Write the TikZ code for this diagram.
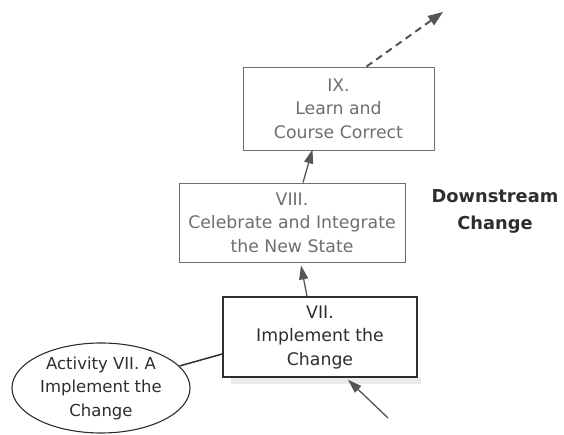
\documentclass[tikz,border=0pt]{standalone}
\usepackage{fontspec}
\setmainfont{DejaVu Sans}
\usetikzlibrary{arrows.meta,calc,shapes.geometric}
\definecolor{softgray}{HTML}{6E6E6E}
\definecolor{darkgray2}{HTML}{2E2E2E}
\definecolor{arrowgray}{HTML}{555555}
\begin{document}
\begin{tikzpicture}[x=1pt,y=1pt,
  stagebox/.style={draw=softgray, line width=0.9pt, text=softgray, align=center,
    inner sep=0pt, font=\fontsize{17.3}{23.5}\selectfont},
  activebox/.style={draw=darkgray2, line width=1.5pt, text=darkgray2, align=center,
    inner sep=0pt, fill=white, font=\fontsize{17.3}{23.5}\selectfont},
  activity/.style={ellipse, draw=darkgray2, line width=1.1pt, text=darkgray2, align=center,
    inner sep=0pt, font=\fontsize{16.5}{23.5}\selectfont},
  flow/.style={arrowgray, line width=1.3pt, -{Triangle[length=14pt,width=9pt]}},
  nextflow/.style={arrowgray, line width=2pt, dash pattern=on 7pt off 5pt,
    -{Triangle[length=15pt,width=11pt]}},
  link/.style={darkgray2, line width=1.5pt}]
\useasboundingbox (0,0) rectangle (564,435);

% shadow under the current stage
\fill[black!8] (231,51) rectangle (421,57);

% stages
\node[stagebox, minimum width=191pt, minimum height=83pt] (ix) at (338.5,326.5)
  {IX.\\Learn and\\Course Correct};
\node[stagebox, minimum width=226pt, minimum height=79pt] (viii) at (292,212.5)
  {VIII.\\Celebrate and Integrate\\the New State};
\node[activebox, minimum width=194pt, minimum height=80pt] (vii) at (320,98)
  {VII.\\Implement the\\Change};

% activity
\node[activity, minimum width=178pt, minimum height=90pt] (act) at (101,47)
  {Activity VII. A\\Implement the\\Change};

% section label
\node[font=\bfseries\fontsize{17.8}{27}\selectfont, text=darkgray2, align=center] (ds)
  at (495,224) {Downstream\\Change};

% free ends
\coordinate (inflow) at (388,17);
\coordinate (outflow) at (443,423);

% connectors
\draw[link] (act) -- ($(vii.west)+(0,-17)$);
\draw[flow] (inflow) -- ($(vii.south)+(28,-2)$);
\draw[flow] ($(vii.north)+(-13,0)$) -- ($(viii.south)+(9,-3)$);
\draw[flow] ($(viii.north)+(11,0)$) -- ($(ix.south)+(-26,1)$);
\draw[nextflow] ($(ix.north)+(28,0)$) -- (outflow);
\end{tikzpicture}
\end{document}
